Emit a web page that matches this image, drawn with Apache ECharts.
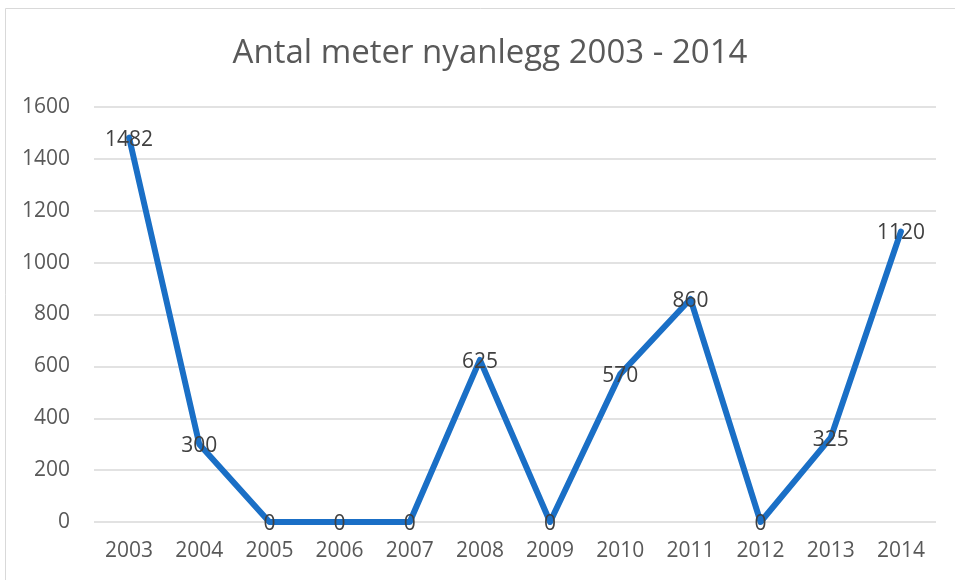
<!DOCTYPE html>
<html>
<head>
<meta charset="utf-8">
<script src="https://cdn.jsdelivr.net/npm/echarts@6/dist/echarts.min.js"></script>
<style>
  html, body { margin: 0; padding: 0; background: #fff; }
  #chart { width: 955px; height: 580px; }
</style>
</head>
<body>
<div id="chart"></div>
<script>
// data
var years = ['2003', '2004', '2005', '2006', '2007', '2008', '2009', '2010', '2011', '2012', '2013', '2014'];
var meters = [1482, 300, 0, 0, 0, 625, 0, 570, 860, 0, 325, 1120];
var yTicks = [0, 200, 400, 600, 800, 1000, 1200, 1400, 1600];

var font = '"Open Sans", "Liberation Sans", sans-serif';
var chrt = echarts.init(document.getElementById('chart'));
chrt.setOption({
    animation: false,
    graphic: [{
        type: 'rect',
        shape: { x: 5.5, y: 8.5, width: 980, height: 600 },
        style: { fill: 'none', stroke: '#d9d9d9', lineWidth: 1 }
    }],
    title: {
        text: 'Antal meter nyanlegg 2003 - 2014',
        left: 485,
        top: 32,
        textAlign: 'center',
        textStyle: { color: '#595959', fontSize: 33, fontWeight: 'normal', fontFamily: font }
    },
    grid: { left: 94, right: 19, top: 107, bottom: 58, containLabel: false },
    xAxis: {
        type: 'category',
        data: years,
        boundaryGap: true,
        axisLine: { show: false },
        axisTick: { show: false },
        axisLabel: { color: '#595959', fontSize: 21, fontFamily: font, margin: 19 }
    },
    yAxis: {
        type: 'value',
        min: yTicks[0],
        max: yTicks[yTicks.length - 1],
        interval: 200,
        axisLine: { show: false },
        axisTick: { show: false },
        axisLabel: {
            color: '#595959', fontSize: 21, fontFamily: font, margin: 24,
            formatter: function (v) { return String(v); }
        },
        splitLine: { lineStyle: { color: '#d9d9d9', width: 1.5 } }
    },
    series: [{
        type: 'line',
        data: meters,
        symbol: 'circle',
        symbolSize: 1,
        itemStyle: { color: '#1a6fc6' },
        lineStyle: { color: '#1a6fc6', width: 6, join: 'round', cap: 'round' },
        label: {
            show: true,
            position: 'inside',
            offset: [0, 2],
            color: '#404040',
            fontSize: 21,
            fontFamily: font
        }
    }]
});
</script>
</body>
</html>
